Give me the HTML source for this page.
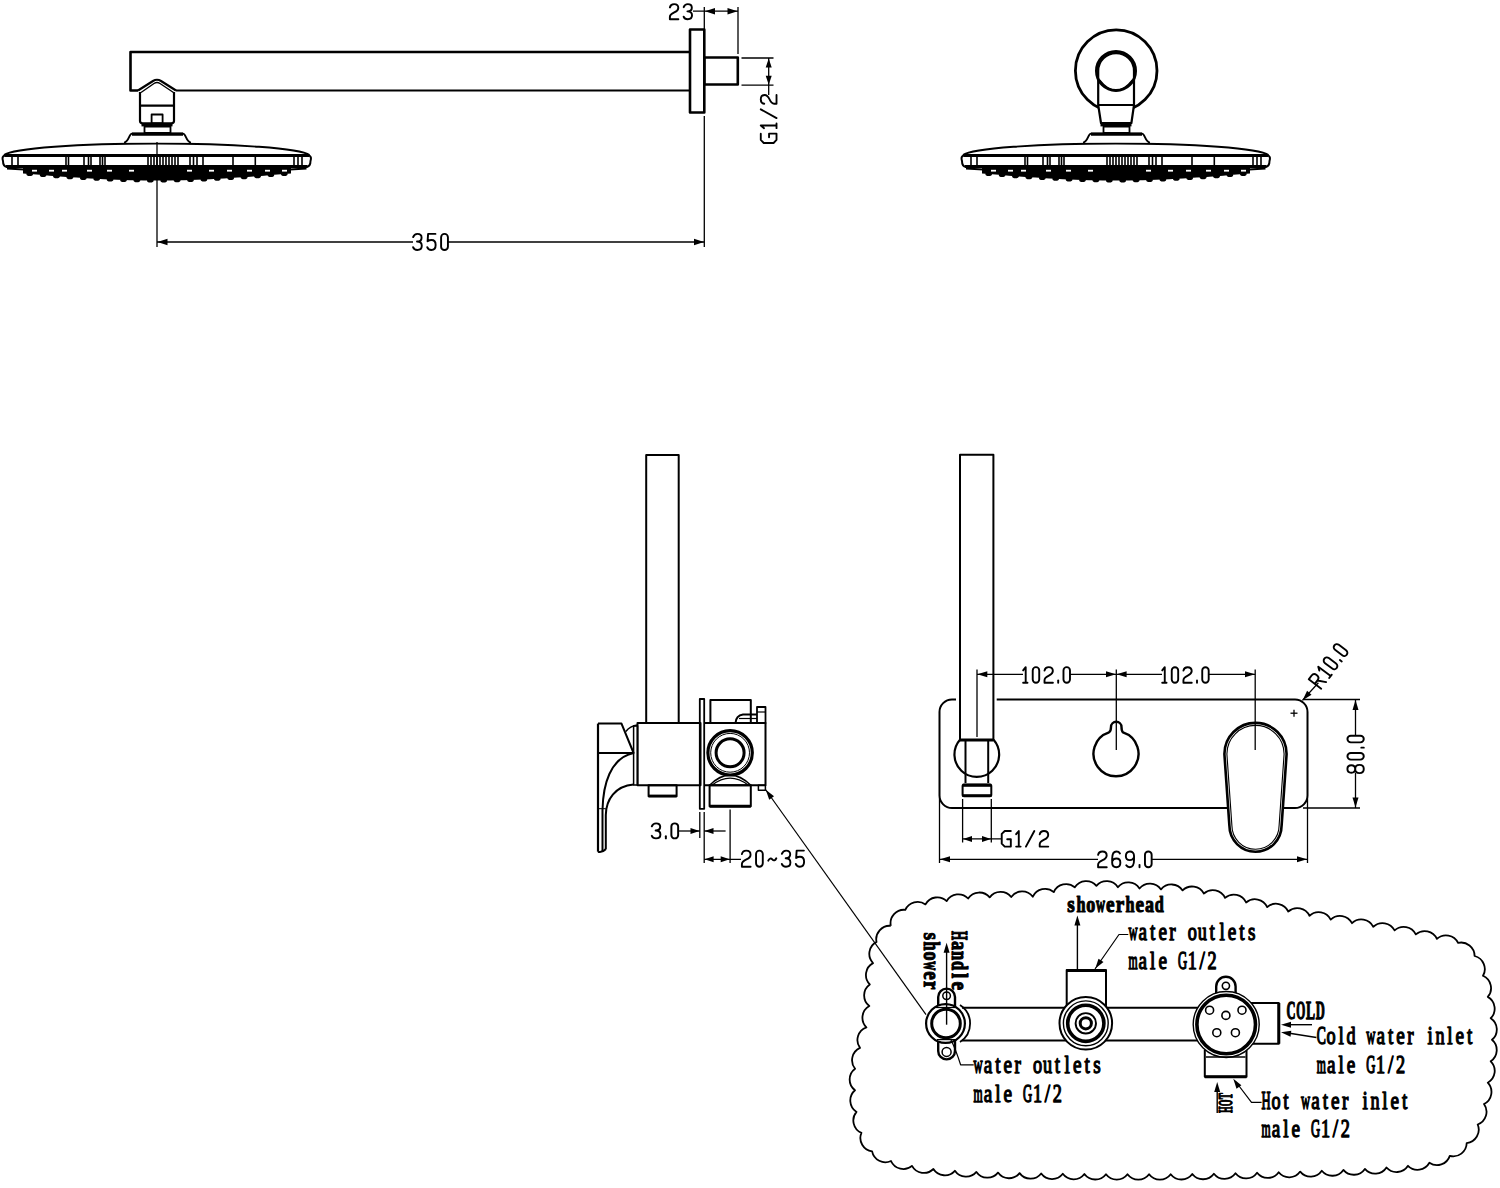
<!DOCTYPE html>
<html><head><meta charset="utf-8"><style>
html,body{margin:0;padding:0;background:#fff;}
svg{display:block;}
</style></head><body>
<svg width="1500" height="1188" viewBox="0 0 1500 1188">
<rect x="0" y="0" width="1500" height="1188" fill="#fff"/>
<g stroke="#000" fill="none" stroke-linecap="butt" stroke-linejoin="round">
<path d="M4.0,155 A153.8,13 0 0 1 309.5,155" stroke-width="1.9" fill="none" />
<path d="M4.5,155.5 L309.0,155.5" stroke-width="3.2" fill="none" />
<path d="M5.0,155.5 Q1.5,156 3.0,161 Q3.0,166.5 7.0,167 L306.5,167 Q310.5,166.5 310.5,161 Q312.0,156 308.5,155.5" stroke-width="2" fill="none" />
<path d="M6.0,166.5 L307.5,166.5" stroke-width="3.2" fill="none" />
<line x1="12.0" y1="157.0" x2="12.0" y2="165.0" stroke-width="1.6"/>
<line x1="18.0" y1="157.0" x2="18.0" y2="165.0" stroke-width="1.6"/>
<line x1="66.0" y1="157.0" x2="66.0" y2="165.0" stroke-width="1.6"/>
<line x1="68.5" y1="157.0" x2="68.5" y2="165.0" stroke-width="1.6"/>
<line x1="84.0" y1="157.0" x2="84.0" y2="165.0" stroke-width="1.6"/>
<line x1="88.5" y1="157.0" x2="88.5" y2="165.0" stroke-width="1.6"/>
<line x1="91.0" y1="157.0" x2="91.0" y2="165.0" stroke-width="1.6"/>
<line x1="100.0" y1="157.0" x2="100.0" y2="165.0" stroke-width="1.6"/>
<line x1="102.5" y1="157.0" x2="102.5" y2="165.0" stroke-width="1.6"/>
<line x1="105.0" y1="157.0" x2="105.0" y2="165.0" stroke-width="1.6"/>
<line x1="148.0" y1="157.0" x2="148.0" y2="165.0" stroke-width="1.6"/>
<line x1="151.0" y1="157.0" x2="151.0" y2="165.0" stroke-width="1.6"/>
<line x1="154.0" y1="157.0" x2="154.0" y2="165.0" stroke-width="1.6"/>
<line x1="157.0" y1="157.0" x2="157.0" y2="165.0" stroke-width="1.6"/>
<line x1="160.0" y1="157.0" x2="160.0" y2="165.0" stroke-width="1.6"/>
<line x1="163.0" y1="157.0" x2="163.0" y2="165.0" stroke-width="1.6"/>
<line x1="166.0" y1="157.0" x2="166.0" y2="165.0" stroke-width="1.6"/>
<line x1="169.0" y1="157.0" x2="169.0" y2="165.0" stroke-width="1.6"/>
<line x1="172.0" y1="157.0" x2="172.0" y2="165.0" stroke-width="1.6"/>
<line x1="175.0" y1="157.0" x2="175.0" y2="165.0" stroke-width="1.6"/>
<line x1="178.0" y1="157.0" x2="178.0" y2="165.0" stroke-width="1.6"/>
<line x1="190.0" y1="157.0" x2="190.0" y2="165.0" stroke-width="1.6"/>
<line x1="193.5" y1="157.0" x2="193.5" y2="165.0" stroke-width="1.6"/>
<line x1="197.0" y1="157.0" x2="197.0" y2="165.0" stroke-width="1.6"/>
<line x1="203.0" y1="157.0" x2="203.0" y2="165.0" stroke-width="1.6"/>
<line x1="233.0" y1="157.0" x2="233.0" y2="165.0" stroke-width="1.6"/>
<line x1="255.3" y1="157.0" x2="255.3" y2="165.0" stroke-width="1.6"/>
<line x1="294.0" y1="157.0" x2="294.0" y2="165.0" stroke-width="1.6"/>
<line x1="298.0" y1="157.0" x2="298.0" y2="165.0" stroke-width="1.6"/>
<line x1="302.0" y1="157.0" x2="302.0" y2="165.0" stroke-width="1.6"/>
<path d="M7.0,168.5 L24.0,169.5 M306.5,168.5 L290.0,169.5" stroke-width="2.2" fill="none" />
<path d="M23.0,167 L23.0,173.5 L29.7,174.0 L36.4,174.6 L43.1,175.1 L49.8,175.7 L56.5,176.2 L63.2,176.7 L69.9,177.2 L76.6,177.6 L83.3,178.0 L90.0,178.4 L96.7,178.8 L103.4,179.2 L110.1,179.5 L116.8,179.7 L123.5,180.0 L130.2,180.2 L136.9,180.3 L143.6,180.4 L150.3,180.5 L157.0,180.5 L163.7,180.5 L170.4,180.4 L177.1,180.3 L183.8,180.2 L190.5,180.0 L197.2,179.7 L203.9,179.5 L210.6,179.2 L217.3,178.8 L224.0,178.4 L230.7,178.0 L237.4,177.6 L244.1,177.2 L250.8,176.7 L257.5,176.2 L264.2,175.7 L270.9,175.1 L277.6,174.6 L284.3,174.0 L291.0,173.5 L291.0,167 Z" stroke-width="0" fill="#000" stroke="none"/>
<ellipse cx="29.7" cy="174.0" rx="3.3" ry="2" fill="#000" stroke="none"/>
<ellipse cx="43.1" cy="175.1" rx="3.3" ry="2" fill="#000" stroke="none"/>
<ellipse cx="56.5" cy="176.2" rx="3.3" ry="2" fill="#000" stroke="none"/>
<ellipse cx="69.9" cy="177.2" rx="3.3" ry="2" fill="#000" stroke="none"/>
<ellipse cx="83.3" cy="178.0" rx="3.3" ry="2" fill="#000" stroke="none"/>
<ellipse cx="96.7" cy="178.8" rx="3.3" ry="2" fill="#000" stroke="none"/>
<ellipse cx="110.1" cy="179.5" rx="3.3" ry="2" fill="#000" stroke="none"/>
<ellipse cx="123.5" cy="180.0" rx="3.3" ry="2" fill="#000" stroke="none"/>
<ellipse cx="136.9" cy="180.3" rx="3.3" ry="2" fill="#000" stroke="none"/>
<ellipse cx="150.3" cy="180.5" rx="3.3" ry="2" fill="#000" stroke="none"/>
<ellipse cx="163.7" cy="180.5" rx="3.3" ry="2" fill="#000" stroke="none"/>
<ellipse cx="177.1" cy="180.3" rx="3.3" ry="2" fill="#000" stroke="none"/>
<ellipse cx="190.5" cy="180.0" rx="3.3" ry="2" fill="#000" stroke="none"/>
<ellipse cx="203.9" cy="179.5" rx="3.3" ry="2" fill="#000" stroke="none"/>
<ellipse cx="217.3" cy="178.8" rx="3.3" ry="2" fill="#000" stroke="none"/>
<ellipse cx="230.7" cy="178.0" rx="3.3" ry="2" fill="#000" stroke="none"/>
<ellipse cx="244.1" cy="177.2" rx="3.3" ry="2" fill="#000" stroke="none"/>
<ellipse cx="257.5" cy="176.2" rx="3.3" ry="2" fill="#000" stroke="none"/>
<ellipse cx="270.9" cy="175.1" rx="3.3" ry="2" fill="#000" stroke="none"/>
<ellipse cx="284.3" cy="174.0" rx="3.3" ry="2" fill="#000" stroke="none"/>
<rect x="32.0" y="169.8" width="5" height="1.8" fill="#fff" stroke="none"/>
<rect x="49.0" y="169.8" width="5" height="1.8" fill="#fff" stroke="none"/>
<rect x="62.0" y="169.8" width="5" height="1.8" fill="#fff" stroke="none"/>
<rect x="87.0" y="169.8" width="5" height="1.8" fill="#fff" stroke="none"/>
<rect x="107.0" y="169.8" width="5" height="1.8" fill="#fff" stroke="none"/>
<rect x="129.0" y="169.8" width="5" height="1.8" fill="#fff" stroke="none"/>
<rect x="187.0" y="169.8" width="5" height="1.8" fill="#fff" stroke="none"/>
<rect x="209.0" y="169.8" width="5" height="1.8" fill="#fff" stroke="none"/>
<rect x="227.0" y="169.8" width="5" height="1.8" fill="#fff" stroke="none"/>
<rect x="247.0" y="169.8" width="5" height="1.8" fill="#fff" stroke="none"/>
<rect x="265.0" y="169.8" width="5" height="1.8" fill="#fff" stroke="none"/>
<rect x="282.0" y="169.8" width="5" height="1.8" fill="#fff" stroke="none"/>
<path d="M124.0,142.6 C129.0,142 129.0,133.5 132.0,133.6 L183.0,133.6 C186.0,133.5 186.0,142 191.0,142.6" stroke-width="1.9" fill="#fff" />
<path d="M132.0,134.2 L183.0,134.2" stroke-width="3.2" fill="none" />
<rect x="144.5" y="126.5" width="26.0" height="6.5" rx="0" stroke-width="1.8" fill="none"/>
<path d="M141.5,124.7 L172.5,124.7" stroke-width="3.4" fill="none" />
<path d="M963.0,155 A153.8,13 0 0 1 1268.5,155" stroke-width="1.9" fill="none" />
<path d="M963.5,155.5 L1268.0,155.5" stroke-width="3.2" fill="none" />
<path d="M964.0,155.5 Q960.5,156 962.0,161 Q962.0,166.5 966.0,167 L1265.5,167 Q1269.5,166.5 1269.5,161 Q1271.0,156 1267.5,155.5" stroke-width="2" fill="none" />
<path d="M965.0,166.5 L1266.5,166.5" stroke-width="3.2" fill="none" />
<line x1="971.0" y1="157.0" x2="971.0" y2="165.0" stroke-width="1.6"/>
<line x1="977.0" y1="157.0" x2="977.0" y2="165.0" stroke-width="1.6"/>
<line x1="1025.0" y1="157.0" x2="1025.0" y2="165.0" stroke-width="1.6"/>
<line x1="1027.5" y1="157.0" x2="1027.5" y2="165.0" stroke-width="1.6"/>
<line x1="1043.0" y1="157.0" x2="1043.0" y2="165.0" stroke-width="1.6"/>
<line x1="1047.5" y1="157.0" x2="1047.5" y2="165.0" stroke-width="1.6"/>
<line x1="1050.0" y1="157.0" x2="1050.0" y2="165.0" stroke-width="1.6"/>
<line x1="1059.0" y1="157.0" x2="1059.0" y2="165.0" stroke-width="1.6"/>
<line x1="1061.5" y1="157.0" x2="1061.5" y2="165.0" stroke-width="1.6"/>
<line x1="1064.0" y1="157.0" x2="1064.0" y2="165.0" stroke-width="1.6"/>
<line x1="1107.0" y1="157.0" x2="1107.0" y2="165.0" stroke-width="1.6"/>
<line x1="1110.0" y1="157.0" x2="1110.0" y2="165.0" stroke-width="1.6"/>
<line x1="1113.0" y1="157.0" x2="1113.0" y2="165.0" stroke-width="1.6"/>
<line x1="1116.0" y1="157.0" x2="1116.0" y2="165.0" stroke-width="1.6"/>
<line x1="1119.0" y1="157.0" x2="1119.0" y2="165.0" stroke-width="1.6"/>
<line x1="1122.0" y1="157.0" x2="1122.0" y2="165.0" stroke-width="1.6"/>
<line x1="1125.0" y1="157.0" x2="1125.0" y2="165.0" stroke-width="1.6"/>
<line x1="1128.0" y1="157.0" x2="1128.0" y2="165.0" stroke-width="1.6"/>
<line x1="1131.0" y1="157.0" x2="1131.0" y2="165.0" stroke-width="1.6"/>
<line x1="1134.0" y1="157.0" x2="1134.0" y2="165.0" stroke-width="1.6"/>
<line x1="1137.0" y1="157.0" x2="1137.0" y2="165.0" stroke-width="1.6"/>
<line x1="1149.0" y1="157.0" x2="1149.0" y2="165.0" stroke-width="1.6"/>
<line x1="1152.5" y1="157.0" x2="1152.5" y2="165.0" stroke-width="1.6"/>
<line x1="1156.0" y1="157.0" x2="1156.0" y2="165.0" stroke-width="1.6"/>
<line x1="1162.0" y1="157.0" x2="1162.0" y2="165.0" stroke-width="1.6"/>
<line x1="1192.0" y1="157.0" x2="1192.0" y2="165.0" stroke-width="1.6"/>
<line x1="1214.3" y1="157.0" x2="1214.3" y2="165.0" stroke-width="1.6"/>
<line x1="1253.0" y1="157.0" x2="1253.0" y2="165.0" stroke-width="1.6"/>
<line x1="1257.0" y1="157.0" x2="1257.0" y2="165.0" stroke-width="1.6"/>
<line x1="1261.0" y1="157.0" x2="1261.0" y2="165.0" stroke-width="1.6"/>
<path d="M966.0,168.5 L983.0,169.5 M1265.5,168.5 L1249.0,169.5" stroke-width="2.2" fill="none" />
<path d="M982.0,167 L982.0,173.5 L988.7,174.0 L995.4,174.6 L1002.1,175.1 L1008.8,175.7 L1015.5,176.2 L1022.2,176.7 L1028.9,177.2 L1035.6,177.6 L1042.3,178.0 L1049.0,178.4 L1055.7,178.8 L1062.4,179.2 L1069.1,179.5 L1075.8,179.7 L1082.5,180.0 L1089.2,180.2 L1095.9,180.3 L1102.6,180.4 L1109.3,180.5 L1116.0,180.5 L1122.7,180.5 L1129.4,180.4 L1136.1,180.3 L1142.8,180.2 L1149.5,180.0 L1156.2,179.7 L1162.9,179.5 L1169.6,179.2 L1176.3,178.8 L1183.0,178.4 L1189.7,178.0 L1196.4,177.6 L1203.1,177.2 L1209.8,176.7 L1216.5,176.2 L1223.2,175.7 L1229.9,175.1 L1236.6,174.6 L1243.3,174.0 L1250.0,173.5 L1250.0,167 Z" stroke-width="0" fill="#000" stroke="none"/>
<ellipse cx="988.7" cy="174.0" rx="3.3" ry="2" fill="#000" stroke="none"/>
<ellipse cx="1002.1" cy="175.1" rx="3.3" ry="2" fill="#000" stroke="none"/>
<ellipse cx="1015.5" cy="176.2" rx="3.3" ry="2" fill="#000" stroke="none"/>
<ellipse cx="1028.9" cy="177.2" rx="3.3" ry="2" fill="#000" stroke="none"/>
<ellipse cx="1042.3" cy="178.0" rx="3.3" ry="2" fill="#000" stroke="none"/>
<ellipse cx="1055.7" cy="178.8" rx="3.3" ry="2" fill="#000" stroke="none"/>
<ellipse cx="1069.1" cy="179.5" rx="3.3" ry="2" fill="#000" stroke="none"/>
<ellipse cx="1082.5" cy="180.0" rx="3.3" ry="2" fill="#000" stroke="none"/>
<ellipse cx="1095.9" cy="180.3" rx="3.3" ry="2" fill="#000" stroke="none"/>
<ellipse cx="1109.3" cy="180.5" rx="3.3" ry="2" fill="#000" stroke="none"/>
<ellipse cx="1122.7" cy="180.5" rx="3.3" ry="2" fill="#000" stroke="none"/>
<ellipse cx="1136.1" cy="180.3" rx="3.3" ry="2" fill="#000" stroke="none"/>
<ellipse cx="1149.5" cy="180.0" rx="3.3" ry="2" fill="#000" stroke="none"/>
<ellipse cx="1162.9" cy="179.5" rx="3.3" ry="2" fill="#000" stroke="none"/>
<ellipse cx="1176.3" cy="178.8" rx="3.3" ry="2" fill="#000" stroke="none"/>
<ellipse cx="1189.7" cy="178.0" rx="3.3" ry="2" fill="#000" stroke="none"/>
<ellipse cx="1203.1" cy="177.2" rx="3.3" ry="2" fill="#000" stroke="none"/>
<ellipse cx="1216.5" cy="176.2" rx="3.3" ry="2" fill="#000" stroke="none"/>
<ellipse cx="1229.9" cy="175.1" rx="3.3" ry="2" fill="#000" stroke="none"/>
<ellipse cx="1243.3" cy="174.0" rx="3.3" ry="2" fill="#000" stroke="none"/>
<rect x="991.0" y="169.8" width="5" height="1.8" fill="#fff" stroke="none"/>
<rect x="1008.0" y="169.8" width="5" height="1.8" fill="#fff" stroke="none"/>
<rect x="1021.0" y="169.8" width="5" height="1.8" fill="#fff" stroke="none"/>
<rect x="1046.0" y="169.8" width="5" height="1.8" fill="#fff" stroke="none"/>
<rect x="1066.0" y="169.8" width="5" height="1.8" fill="#fff" stroke="none"/>
<rect x="1088.0" y="169.8" width="5" height="1.8" fill="#fff" stroke="none"/>
<rect x="1146.0" y="169.8" width="5" height="1.8" fill="#fff" stroke="none"/>
<rect x="1168.0" y="169.8" width="5" height="1.8" fill="#fff" stroke="none"/>
<rect x="1186.0" y="169.8" width="5" height="1.8" fill="#fff" stroke="none"/>
<rect x="1206.0" y="169.8" width="5" height="1.8" fill="#fff" stroke="none"/>
<rect x="1224.0" y="169.8" width="5" height="1.8" fill="#fff" stroke="none"/>
<rect x="1241.0" y="169.8" width="5" height="1.8" fill="#fff" stroke="none"/>
<path d="M1083.0,142.6 C1088.0,142 1088.0,133.5 1091.0,133.6 L1142.0,133.6 C1145.0,133.5 1145.0,142 1150.0,142.6" stroke-width="1.9" fill="#fff" />
<path d="M1091.0,134.2 L1142.0,134.2" stroke-width="3.2" fill="none" />
<rect x="1103.5" y="126.5" width="26.0" height="6.5" rx="0" stroke-width="1.8" fill="none"/>
<path d="M1100.5,124.7 L1131.5,124.7" stroke-width="3.4" fill="none" />
<path d="M690,52 L130.5,52 L130.5,90.5 L138,90.5" stroke-width="2.6" fill="none" />
<path d="M176,90.5 L690,90.5" stroke-width="2" fill="none" />
<path d="M138,90.5 L153,81 Q157,78.5 161,81 L176,90.5" stroke-width="2.2" fill="none" />
<path d="M141,92.5 L154,83.5 Q157,81.5 160,83.5 L173.5,92.5" stroke-width="1.4" fill="none" />
<path d="M140,92 L140,121 Q140,123.3 143,123.3 L171,123.3 Q174,123.3 174,121 L174,92" stroke-width="2.2" fill="none" />
<line x1="140.0" y1="105.7" x2="174.0" y2="105.7" stroke-width="2.2"/>
<rect x="151.6" y="114.5" width="11.0" height="9.0" rx="0" stroke-width="1.8" fill="none"/>
<line x1="157.0" y1="142.0" x2="157.0" y2="247.0" stroke-width="1.3"/>
<line x1="704.3" y1="116.0" x2="704.3" y2="247.0" stroke-width="1.3"/>
<line x1="157.0" y1="242.0" x2="704.3" y2="242.0" stroke-width="1.3"/>
<path d="M157.5,242.0 L167.5,238.8 L167.5,245.2 Z" fill="#000" stroke="none"/>
<path d="M704.0,242.0 L694.0,245.2 L694.0,238.8 Z" fill="#000" stroke="none"/>
<rect x="413.0" y="233.0" width="35.0" height="18.0" fill="#fff" stroke="none"/>
<g transform="translate(412.10,232.90) scale(1.0194,1.0056)" fill="none" stroke="#000" stroke-width="1.877" stroke-linecap="round" stroke-linejoin="round"><path transform="translate(0.00,0)" d="M1,4.2 C1.8,2 3.2,1 5.2,1 C7.7,1 9.3,2.5 9.3,4.7 C9.3,7 7.6,8.6 4.8,8.6 M4.8,8.6 C7.9,8.6 9.5,10.4 9.5,12.8 C9.5,15.4 7.7,17 5.1,17 C3,17 1.6,16.1 0.95,14.2"/><path transform="translate(13.90,0)" d="M9,1 L1.8,1 L1.3,8.3 C2.5,7.5 3.8,7.1 5.1,7.1 C7.8,7.1 9.2,9 9.2,12 C9.2,15 7.6,17 5,17 C3,17 1.6,16.1 0.95,14.2"/><path transform="translate(27.50,0)" d="M0.95,4.35 A3.35,3.35 0 0 1 7.65,4.35 L7.65,13.65 A3.35,3.35 0 0 1 0.95,13.65 Z"/></g>
<rect x="690.0" y="29.5" width="14.3" height="83.0" rx="0" stroke-width="2.6" fill="none"/>
<rect x="704.3" y="57.5" width="33.5" height="27.0" rx="0" stroke-width="2.6" fill="none"/>
<line x1="704.3" y1="7.0" x2="704.3" y2="29.0" stroke-width="1.3"/>
<line x1="738.0" y1="7.0" x2="738.0" y2="54.0" stroke-width="1.3"/>
<line x1="693.0" y1="11.2" x2="738.0" y2="11.2" stroke-width="1.3"/>
<path d="M705.0,11.2 L715.0,8.0 L715.0,14.4 Z" fill="#000" stroke="none"/>
<path d="M737.5,11.2 L727.5,14.4 L727.5,8.0 Z" fill="#000" stroke="none"/>
<g transform="translate(668.90,3.20) scale(0.9796,0.9444)" fill="none" stroke="#000" stroke-width="1.975" stroke-linecap="round" stroke-linejoin="round"><path transform="translate(0.00,0)" d="M1,4.5 C1.5,2 3,1 5.3,1 C7.8,1 9.6,2.6 9.6,5 C9.6,7.3 8,8.6 5.5,9.8 C2.5,11.2 1,12.3 1,14.5 L1,17 L9.65,17"/><path transform="translate(14.10,0)" d="M1,4.2 C1.8,2 3.2,1 5.2,1 C7.7,1 9.3,2.5 9.3,4.7 C9.3,7 7.6,8.6 4.8,8.6 M4.8,8.6 C7.9,8.6 9.5,10.4 9.5,12.8 C9.5,15.4 7.7,17 5.1,17 C3,17 1.6,16.1 0.95,14.2"/></g>
<line x1="741.5" y1="58.0" x2="773.5" y2="58.0" stroke-width="1.3"/>
<line x1="741.5" y1="85.2" x2="773.5" y2="85.2" stroke-width="1.3"/>
<line x1="768.7" y1="58.0" x2="768.7" y2="95.0" stroke-width="1.3"/>
<path d="M768.7,58.5 L771.7,67.5 L765.7,67.5 Z" fill="#000" stroke="none"/>
<path d="M768.7,84.7 L765.7,75.7 L771.7,75.7 Z" fill="#000" stroke="none"/>
<g transform="rotate(-90 777.5 144.0)"><g transform="translate(777.50,126.30) scale(1.0204,0.9833)" fill="none" stroke="#000" stroke-width="1.896" stroke-linecap="round" stroke-linejoin="round"><path transform="translate(0.00,0)" d="M10.15,1 L4,1 L0.95,4 L0.95,14 L4,17 L10.15,17 L10.15,9.4 L6.5,9.4"/><path transform="translate(14.60,0)" d="M0.95,4.3 L3.6,1 L3.6,17 M0.95,17 L5.45,17"/><path transform="translate(24.50,0)" d="M0.95,17 L9.45,1"/><path transform="translate(38.40,0)" d="M1,4.5 C1.5,2 3,1 5.3,1 C7.8,1 9.6,2.6 9.6,5 C9.6,7.3 8,8.6 5.5,9.8 C2.5,11.2 1,12.3 1,14.5 L1,17 L9.65,17"/></g></g>
<circle cx="1116.2" cy="70.7" r="40.8" stroke-width="2.8" fill="none"/>
<path d="M1101,123 L1098.2,105 L1098.2,71 A17.9,17.9 0 0 1 1134,71 L1134,105 L1131.4,123 Z" stroke-width="2.2" fill="#fff" />
<circle cx="1116.0" cy="70.9" r="19.6" stroke-width="2.8" fill="none"/>
<path d="M1099.5,80 Q1116,101 1132.5,80" stroke-width="1.6" fill="none" />
<line x1="1098.2" y1="105.0" x2="1134.0" y2="105.0" stroke-width="2.2"/>
<rect x="646.2" y="455.0" width="32.5" height="268.0" rx="0" stroke-width="2" fill="none"/>
<rect x="637.5" y="723.0" width="63.0" height="62.2" rx="0" stroke-width="2" fill="none"/>
<rect x="699.8" y="699.0" width="4.4" height="109.8" rx="0" stroke-width="1.8" fill="none"/>
<path d="M704.2,723 L765.5,723 L765.5,785.2 L704.2,785.2" stroke-width="2" fill="none" />
<rect x="710.4" y="700.0" width="40.4" height="23.0" rx="0" stroke-width="2" fill="none"/>
<path d="M735.5,723 Q736,715.5 743,714.5 L757,714.5" stroke-width="2" fill="none" />
<line x1="739.0" y1="718.5" x2="757.0" y2="718.5" stroke-width="1.2"/>
<rect x="757.0" y="707.0" width="8.5" height="16.0" rx="0" stroke-width="1.8" fill="none"/>
<line x1="757.0" y1="712.0" x2="765.5" y2="712.0" stroke-width="1.2"/>
<circle cx="730.1" cy="752.8" r="22.2" stroke-width="3.2" fill="none"/>
<circle cx="730.1" cy="752.8" r="19.4" stroke-width="1" fill="none"/>
<circle cx="730.1" cy="752.8" r="14.0" stroke-width="3" fill="none"/>
<path d="M709.6,785.2 Q730,765 750.8,785.2" stroke-width="1.6" fill="none" />
<path d="M712,785.2 Q730,771 748.4,785.2" stroke-width="1.2" fill="none" />
<rect x="709.6" y="785.2" width="41.2" height="21.1" rx="0" stroke-width="2" fill="none"/>
<line x1="709.6" y1="806.3" x2="750.8" y2="806.3" stroke-width="3"/>
<rect x="758.4" y="785.2" width="7.0" height="5.0" rx="0" stroke-width="1.5" fill="none"/>
<rect x="648.6" y="785.2" width="28.0" height="11.0" rx="0" stroke-width="2" fill="none"/>
<line x1="648.6" y1="796.0" x2="676.6" y2="796.0" stroke-width="2.8"/>
<path d="M598,723.6 L621.5,723.6 L633.6,753 L598,753" stroke-width="2" fill="none" />
<path d="M598,723.6 L598,851.7" stroke-width="2.2" fill="none" />
<path d="M633.6,753 C610,758 603,785 602.5,810 L602.5,851" stroke-width="2" fill="none" />
<path d="M633.6,784.6 C615,786 606,800 605.8,815 L605.8,849" stroke-width="2" fill="none" />
<path d="M598,851.7 Q602,853 606,849" stroke-width="2" fill="none" />
<path d="M625.8,731.5 Q630,726 637.5,725" stroke-width="1.5" fill="none" />
<rect x="633.6" y="726.0" width="4.0" height="59.0" rx="0" stroke-width="1.5" fill="none"/>
<line x1="598.0" y1="808.7" x2="605.8" y2="808.7" stroke-width="1"/>
<line x1="699.8" y1="812.0" x2="699.8" y2="838.0" stroke-width="1.3"/>
<line x1="704.2" y1="812.0" x2="704.2" y2="863.0" stroke-width="1.3"/>
<line x1="730.1" y1="809.6" x2="730.1" y2="863.0" stroke-width="1.3"/>
<line x1="679.0" y1="831.0" x2="699.8" y2="831.0" stroke-width="1.3"/>
<line x1="704.2" y1="831.0" x2="725.6" y2="831.0" stroke-width="1.3"/>
<path d="M699.5,831.0 L690.5,834.0 L690.5,828.0 Z" fill="#000" stroke="none"/>
<path d="M704.5,831.0 L713.5,828.0 L713.5,834.0 Z" fill="#000" stroke="none"/>
<g transform="translate(650.80,822.40) scale(1.0107,0.9444)" fill="none" stroke="#000" stroke-width="1.944" stroke-linecap="round" stroke-linejoin="round"><path transform="translate(0.00,0)" d="M1,4.2 C1.8,2 3.2,1 5.2,1 C7.7,1 9.3,2.5 9.3,4.7 C9.3,7 7.6,8.6 4.8,8.6 M4.8,8.6 C7.9,8.6 9.5,10.4 9.5,12.8 C9.5,15.4 7.7,17 5.1,17 C3,17 1.6,16.1 0.95,14.2"/><path transform="translate(13.90,0)" d="M1,14.6 L1,17"/><path transform="translate(19.40,0)" d="M0.95,4.35 A3.35,3.35 0 0 1 7.65,4.35 L7.65,13.65 A3.35,3.35 0 0 1 0.95,13.65 Z"/></g>
<line x1="704.2" y1="859.3" x2="741.0" y2="859.3" stroke-width="1.3"/>
<path d="M704.6,859.3 L713.6,856.3 L713.6,862.3 Z" fill="#000" stroke="none"/>
<path d="M729.7,859.3 L720.7,862.3 L720.7,856.3 Z" fill="#000" stroke="none"/>
<g transform="translate(740.90,849.60) scale(1.0063,1.0056)" fill="none" stroke="#000" stroke-width="1.889" stroke-linecap="round" stroke-linejoin="round"><path transform="translate(0.00,0)" d="M1,4.5 C1.5,2 3,1 5.3,1 C7.8,1 9.6,2.6 9.6,5 C9.6,7.3 8,8.6 5.5,9.8 C2.5,11.2 1,12.3 1,14.5 L1,17 L9.65,17"/><path transform="translate(14.10,0)" d="M0.95,4.35 A3.35,3.35 0 0 1 7.65,4.35 L7.65,13.65 A3.35,3.35 0 0 1 0.95,13.65 Z"/><path transform="translate(26.20,0)" d="M1,11 C2,8.8 3.6,8.2 5,9.8 C6.4,11.4 8,10.8 9,8.6"/><path transform="translate(39.70,0)" d="M1,4.2 C1.8,2 3.2,1 5.2,1 C7.7,1 9.3,2.5 9.3,4.7 C9.3,7 7.6,8.6 4.8,8.6 M4.8,8.6 C7.9,8.6 9.5,10.4 9.5,12.8 C9.5,15.4 7.7,17 5.1,17 C3,17 1.6,16.1 0.95,14.2"/><path transform="translate(53.60,0)" d="M9,1 L1.8,1 L1.3,8.3 C2.5,7.5 3.8,7.1 5.1,7.1 C7.8,7.1 9.2,9 9.2,12 C9.2,15 7.6,17 5,17 C3,17 1.6,16.1 0.95,14.2"/></g>
<line x1="765.5" y1="789.5" x2="926.0" y2="1014.6" stroke-width="1.2"/>
<path d="M765.8,789.8 L774.0,796.2 L769.2,799.7 Z" fill="#000" stroke="none"/>
<path d="M956,699.5 L952,699.5 A12.5,12.5 0 0 0 939.5,712 L939.5,795.5 A12.5,12.5 0 0 0 952,808 L1295,808 A12.5,12.5 0 0 0 1307.5,795.5 L1307.5,712 A12.5,12.5 0 0 0 1295,699.5 L996.7,699.5" stroke-width="2" fill="none" />
<path d="M960,454.8 L993.4,454.8 L993.4,740 L960,740 Z" stroke-width="2" fill="none" />
<path d="M960,739.8 A22.35,22.35 0 1 0 993.6,739.8" stroke-width="2.2" fill="none" />
<line x1="965.5" y1="740.0" x2="965.5" y2="783.0" stroke-width="2"/>
<line x1="988.2" y1="740.0" x2="988.2" y2="783.0" stroke-width="2"/>
<rect x="962.6" y="784.6" width="28.7" height="11.7" rx="1.5" stroke-width="2" fill="none"/>
<line x1="962.6" y1="785.3" x2="991.3" y2="785.3" stroke-width="3"/>
<line x1="962.6" y1="795.6" x2="991.3" y2="795.6" stroke-width="2.8"/>
<line x1="960.0" y1="740.0" x2="993.4" y2="740.0" stroke-width="2.8"/>
<path d="M1109,732.3 Q1111,731 1111,727 A5.25,5.25 0 1 1 1121.5,727 Q1121.5,731 1123,732.3 A22.5,22.5 0 1 1 1109,732.3 Z" stroke-width="2.4" fill="none" />
<path d="M1224.4,754 A31.1,31.1 0 0 1 1286.6,754 L1281.6,825.6 A26.1,26.1 0 0 1 1229.4,825.6 Z" stroke-width="2.6" fill="#fff" />
<path d="M1226.9,754 A28.6,28.6 0 0 1 1284.1,754 L1279.1,825.6 A23.6,23.6 0 0 1 1231.9,825.6 Z" stroke-width="1.1" fill="none" />
<line x1="1290.5" y1="713.2" x2="1297.5" y2="713.2" stroke-width="1.3"/>
<line x1="1294.0" y1="709.7" x2="1294.0" y2="716.7" stroke-width="1.3"/>
<line x1="977.0" y1="669.5" x2="977.0" y2="737.0" stroke-width="1.3"/>
<line x1="1116.3" y1="669.5" x2="1116.3" y2="750.0" stroke-width="1.3"/>
<line x1="1255.2" y1="669.5" x2="1255.2" y2="750.0" stroke-width="1.3"/>
<line x1="977.0" y1="674.3" x2="1255.2" y2="674.3" stroke-width="1.3"/>
<path d="M977.3,674.3 L987.3,671.3 L987.3,677.3 Z" fill="#000" stroke="none"/>
<path d="M1116.0,674.3 L1106.0,677.3 L1106.0,671.3 Z" fill="#000" stroke="none"/>
<path d="M1116.6,674.3 L1126.6,671.3 L1126.6,677.3 Z" fill="#000" stroke="none"/>
<path d="M1255.0,674.3 L1245.0,677.3 L1245.0,671.3 Z" fill="#000" stroke="none"/>
<rect x="1023.0" y="666.0" width="47.0" height="18.0" fill="#fff" stroke="none"/>
<rect x="1162.0" y="666.0" width="47.0" height="18.0" fill="#fff" stroke="none"/>
<g transform="translate(1022.20,666.20) scale(0.9701,0.9722)" fill="none" stroke="#000" stroke-width="1.956" stroke-linecap="round" stroke-linejoin="round"><path transform="translate(0.00,0)" d="M0.95,4.3 L3.6,1 L3.6,17 M0.95,17 L5.45,17"/><path transform="translate(9.90,0)" d="M0.95,4.35 A3.35,3.35 0 0 1 7.65,4.35 L7.65,13.65 A3.35,3.35 0 0 1 0.95,13.65 Z"/><path transform="translate(22.00,0)" d="M1,4.5 C1.5,2 3,1 5.3,1 C7.8,1 9.6,2.6 9.6,5 C9.6,7.3 8,8.6 5.5,9.8 C2.5,11.2 1,12.3 1,14.5 L1,17 L9.65,17"/><path transform="translate(36.10,0)" d="M1,14.6 L1,17"/><path transform="translate(41.60,0)" d="M0.95,4.35 A3.35,3.35 0 0 1 7.65,4.35 L7.65,13.65 A3.35,3.35 0 0 1 0.95,13.65 Z"/></g>
<g transform="translate(1161.30,666.20) scale(0.9622,0.9722)" fill="none" stroke="#000" stroke-width="1.964" stroke-linecap="round" stroke-linejoin="round"><path transform="translate(0.00,0)" d="M0.95,4.3 L3.6,1 L3.6,17 M0.95,17 L5.45,17"/><path transform="translate(9.90,0)" d="M0.95,4.35 A3.35,3.35 0 0 1 7.65,4.35 L7.65,13.65 A3.35,3.35 0 0 1 0.95,13.65 Z"/><path transform="translate(22.00,0)" d="M1,4.5 C1.5,2 3,1 5.3,1 C7.8,1 9.6,2.6 9.6,5 C9.6,7.3 8,8.6 5.5,9.8 C2.5,11.2 1,12.3 1,14.5 L1,17 L9.65,17"/><path transform="translate(36.10,0)" d="M1,14.6 L1,17"/><path transform="translate(41.60,0)" d="M0.95,4.35 A3.35,3.35 0 0 1 7.65,4.35 L7.65,13.65 A3.35,3.35 0 0 1 0.95,13.65 Z"/></g>
<line x1="1303.0" y1="699.5" x2="1360.0" y2="699.5" stroke-width="1.3"/>
<line x1="1303.0" y1="808.0" x2="1360.0" y2="808.0" stroke-width="1.3"/>
<line x1="1355.5" y1="699.5" x2="1355.5" y2="808.0" stroke-width="1.3"/>
<path d="M1355.5,700.0 L1358.5,710.0 L1352.5,710.0 Z" fill="#000" stroke="none"/>
<path d="M1355.5,807.5 L1352.5,797.5 L1358.5,797.5 Z" fill="#000" stroke="none"/>
<rect x="1346.0" y="736.0" width="18.0" height="37.0" fill="#fff" stroke="none"/>
<g transform="rotate(-90 1364.8 774.0)"><g transform="translate(1364.80,755.60) scale(0.9825,1.0222)" fill="none" stroke="#000" stroke-width="1.896" stroke-linecap="round" stroke-linejoin="round"><path transform="translate(0.00,0)" d="M5.1,8.6 C2.7,8.6 1.3,7.2 1.3,4.8 C1.3,2.5 2.9,1 5.1,1 C7.3,1 8.9,2.5 8.9,4.8 C8.9,7.2 7.5,8.6 5.1,8.6 C2.4,8.6 0.95,10.2 0.95,12.8 C0.95,15.4 2.6,17 5.1,17 C7.6,17 9.25,15.4 9.25,12.8 C9.25,10.2 7.8,8.6 5.1,8.6 Z"/><path transform="translate(13.70,0)" d="M0.95,4.35 A3.35,3.35 0 0 1 7.65,4.35 L7.65,13.65 A3.35,3.35 0 0 1 0.95,13.65 Z"/><path transform="translate(25.80,0)" d="M1,14.6 L1,17"/><path transform="translate(31.30,0)" d="M0.95,4.35 A3.35,3.35 0 0 1 7.65,4.35 L7.65,13.65 A3.35,3.35 0 0 1 0.95,13.65 Z"/></g></g>
<line x1="1302.4" y1="700.4" x2="1318.4" y2="682.8" stroke-width="1.3"/>
<path d="M1302.6,700.2 L1307.1,690.8 L1311.5,694.8 Z" fill="#000" stroke="none"/>
<g transform="rotate(-53 1321.4 690.0)"><g transform="translate(1321.40,672.50) scale(0.9462,0.9722)" fill="none" stroke="#000" stroke-width="1.981" stroke-linecap="round" stroke-linejoin="round"><path transform="translate(0.00,0)" d="M1,17 L1,1 L6,1 C8.3,1 9.65,2.5 9.65,4.8 C9.65,7.2 8.3,8.8 6,8.8 L1,8.8 M5.5,8.8 L9.65,17"/><path transform="translate(14.10,0)" d="M0.95,4.3 L3.6,1 L3.6,17 M0.95,17 L5.45,17"/><path transform="translate(24.00,0)" d="M0.95,4.35 A3.35,3.35 0 0 1 7.65,4.35 L7.65,13.65 A3.35,3.35 0 0 1 0.95,13.65 Z"/><path transform="translate(36.10,0)" d="M1,14.6 L1,17"/><path transform="translate(41.60,0)" d="M0.95,4.35 A3.35,3.35 0 0 1 7.65,4.35 L7.65,13.65 A3.35,3.35 0 0 1 0.95,13.65 Z"/></g></g>
<line x1="962.6" y1="799.0" x2="962.6" y2="842.5" stroke-width="1.3"/>
<line x1="991.3" y1="799.0" x2="991.3" y2="842.5" stroke-width="1.3"/>
<line x1="962.6" y1="838.9" x2="1001.0" y2="838.9" stroke-width="1.3"/>
<path d="M963.0,838.9 L972.0,835.9 L972.0,841.9 Z" fill="#000" stroke="none"/>
<path d="M991.0,838.9 L982.0,841.9 L982.0,835.9 Z" fill="#000" stroke="none"/>
<g transform="translate(1000.80,830.00) scale(0.9878,0.9778)" fill="none" stroke="#000" stroke-width="1.933" stroke-linecap="round" stroke-linejoin="round"><path transform="translate(0.00,0)" d="M10.15,1 L4,1 L0.95,4 L0.95,14 L4,17 L10.15,17 L10.15,9.4 L6.5,9.4"/><path transform="translate(14.60,0)" d="M0.95,4.3 L3.6,1 L3.6,17 M0.95,17 L5.45,17"/><path transform="translate(24.50,0)" d="M0.95,17 L9.45,1"/><path transform="translate(38.40,0)" d="M1,4.5 C1.5,2 3,1 5.3,1 C7.8,1 9.6,2.6 9.6,5 C9.6,7.3 8,8.6 5.5,9.8 C2.5,11.2 1,12.3 1,14.5 L1,17 L9.65,17"/></g>
<line x1="939.5" y1="798.5" x2="939.5" y2="863.0" stroke-width="1.3"/>
<line x1="1307.5" y1="798.5" x2="1307.5" y2="863.0" stroke-width="1.3"/>
<line x1="939.5" y1="859.3" x2="1307.5" y2="859.3" stroke-width="1.3"/>
<path d="M940.0,859.3 L950.0,856.3 L950.0,862.3 Z" fill="#000" stroke="none"/>
<path d="M1307.0,859.3 L1297.0,862.3 L1297.0,856.3 Z" fill="#000" stroke="none"/>
<rect x="1098.0" y="850.0" width="54.0" height="18.0" fill="#fff" stroke="none"/>
<g transform="translate(1097.10,850.50) scale(0.9982,0.9833)" fill="none" stroke="#000" stroke-width="1.918" stroke-linecap="round" stroke-linejoin="round"><path transform="translate(0.00,0)" d="M1,4.5 C1.5,2 3,1 5.3,1 C7.8,1 9.6,2.6 9.6,5 C9.6,7.3 8,8.6 5.5,9.8 C2.5,11.2 1,12.3 1,14.5 L1,17 L9.65,17"/><path transform="translate(14.10,0)" d="M8.8,3 C8.1,1.7 6.8,1 5.2,1 C2.4,1 1,3.5 1,8.5 L1,12.5 C1,15.3 2.7,17 5.1,17 C7.6,17 9.2,15.2 9.2,12.4 C9.2,9.8 7.6,8.2 5.2,8.2 C3.2,8.2 1.7,9.4 1,11"/><path transform="translate(27.80,0)" d="M1.4,15 C2.1,16.3 3.4,17 5,17 C7.8,17 9.2,14.5 9.2,9.5 L9.2,5.5 C9.2,2.7 7.5,1 5.1,1 C2.6,1 1,2.8 1,5.6 C1,8.2 2.6,9.8 5,9.8 C7,9.8 8.5,8.6 9.2,7"/><path transform="translate(41.50,0)" d="M1,14.6 L1,17"/><path transform="translate(47.00,0)" d="M0.95,4.35 A3.35,3.35 0 0 1 7.65,4.35 L7.65,13.65 A3.35,3.35 0 0 1 0.95,13.65 Z"/></g>
<path d="M890.8,925.8 A13.5,13.5 0 0 1 905.3,909.8 A13.5,13.5 0 0 1 925.5,904.4 A13.5,13.5 0 0 1 946.7,901.1 A13.5,13.5 0 0 1 968.1,898.5 A13.5,13.5 0 0 1 989.7,897.4 A13.5,13.5 0 0 1 1011.2,897.0 A13.5,13.5 0 0 1 1032.8,896.7 A13.5,13.5 0 0 1 1053.8,892.1 A13.5,13.5 0 0 1 1074.8,887.3 A13.5,13.5 0 0 1 1096.4,885.8 A13.5,13.5 0 0 1 1117.9,887.2 A13.5,13.5 0 0 1 1139.5,888.5 A13.5,13.5 0 0 1 1161.0,889.4 A13.5,13.5 0 0 1 1182.6,890.4 A13.5,13.5 0 0 1 1203.9,893.5 A13.5,13.5 0 0 1 1225.0,897.9 A13.5,13.5 0 0 1 1246.1,902.5 A13.5,13.5 0 0 1 1267.2,907.1 A13.5,13.5 0 0 1 1288.3,911.5 A13.5,13.5 0 0 1 1309.5,915.8 A13.5,13.5 0 0 1 1330.7,919.6 A13.5,13.5 0 0 1 1352.0,923.2 A13.5,13.5 0 0 1 1373.3,926.8 A13.5,13.5 0 0 1 1394.6,930.4 A13.5,13.5 0 0 1 1415.8,934.4 A13.5,13.5 0 0 1 1436.9,938.9 A13.5,13.5 0 0 1 1458.1,942.9 A13.5,13.5 0 0 1 1474.6,956.0 A13.5,13.5 0 0 1 1483.0,975.8 A13.5,13.5 0 0 1 1487.8,996.9 A13.5,13.5 0 0 1 1490.7,1018.2 A13.5,13.5 0 0 1 1492.0,1039.8 A13.5,13.5 0 0 1 1490.7,1061.3 A13.5,13.5 0 0 1 1487.8,1082.7 A13.5,13.5 0 0 1 1484.0,1104.0 A13.5,13.5 0 0 1 1477.7,1124.5 A13.5,13.5 0 0 1 1466.7,1143.1 A13.5,13.5 0 0 1 1449.8,1155.9 A13.5,13.5 0 0 1 1429.4,1162.8 A13.5,13.5 0 0 1 1408.0,1165.8 A13.5,13.5 0 0 1 1386.5,1167.5 A13.5,13.5 0 0 1 1364.9,1168.9 A13.5,13.5 0 0 1 1343.4,1169.9 A13.5,13.5 0 0 1 1321.8,1170.8 A13.5,13.5 0 0 1 1300.2,1171.6 A13.5,13.5 0 0 1 1278.7,1172.3 A13.5,13.5 0 0 1 1257.1,1172.8 A13.5,13.5 0 0 1 1235.5,1173.3 A13.5,13.5 0 0 1 1213.9,1173.7 A13.5,13.5 0 0 1 1192.3,1174.0 A13.5,13.5 0 0 1 1170.7,1174.2 A13.5,13.5 0 0 1 1149.1,1174.2 A13.5,13.5 0 0 1 1127.5,1174.2 A13.5,13.5 0 0 1 1106.0,1174.2 A13.5,13.5 0 0 1 1084.4,1174.0 A13.5,13.5 0 0 1 1062.8,1173.8 A13.5,13.5 0 0 1 1041.2,1173.5 A13.5,13.5 0 0 1 1019.6,1173.1 A13.5,13.5 0 0 1 998.0,1172.6 A13.5,13.5 0 0 1 976.4,1171.9 A13.5,13.5 0 0 1 954.9,1170.8 A13.5,13.5 0 0 1 933.4,1169.0 A13.5,13.5 0 0 1 912.0,1165.9 A13.5,13.5 0 0 1 891.0,1161.0 A13.5,13.5 0 0 1 872.1,1151.4 A13.5,13.5 0 0 1 861.4,1132.9 A13.5,13.5 0 0 1 856.5,1111.9 A13.5,13.5 0 0 1 855.0,1090.3 A13.5,13.5 0 0 1 855.1,1068.7 A13.5,13.5 0 0 1 860.0,1047.9 A13.5,13.5 0 0 1 866.4,1027.3 A13.5,13.5 0 0 1 869.3,1006.0 A13.5,13.5 0 0 1 869.8,984.4 A13.5,13.5 0 0 1 873.0,963.1 A13.5,13.5 0 0 1 876.5,941.9 A13.5,13.5 0 0 1 890.8,925.8 " stroke-width="1.8" fill="none" />
<line x1="962.0" y1="1007.7" x2="1200.0" y2="1007.7" stroke-width="2"/>
<line x1="962.0" y1="1040.6" x2="1200.0" y2="1040.6" stroke-width="2"/>
<path d="M938.2,1008 L938.2,997 A8.4,8.4 0 0 1 955,997 L955,1008" stroke-width="2.4" fill="#fff" />
<circle cx="946.6" cy="995.7" r="3.8" stroke-width="1.5" fill="none"/>
<path d="M938.2,1039 L938.2,1051 A8.4,8.4 0 0 0 955,1051 L955,1039" stroke-width="2.4" fill="#fff" />
<circle cx="946.6" cy="1051.9" r="4.5" stroke-width="1.5" fill="none"/>
<path d="M960,1005 A22,22 0 0 1 960,1042" stroke-width="1.8" fill="none" />
<circle cx="945.5" cy="1023.5" r="19.4" stroke-width="2.2" fill="#fff"/>
<circle cx="946.0" cy="1023.5" r="14.3" stroke-width="3" fill="none"/>
<line x1="936.0" y1="1007.5" x2="956.0" y2="1007.5" stroke-width="1.2"/>
<line x1="937.0" y1="1039.6" x2="956.0" y2="1039.6" stroke-width="1.2"/>
<line x1="946.6" y1="1024.7" x2="946.6" y2="948.0" stroke-width="1.4"/>
<path d="M946.6,942.7 L949.6,952.7 L943.6,952.7 Z" fill="#000" stroke="none"/>
<path d="M951,1040 Q956,1050 960.6,1064.8 L973.7,1064.8" stroke-width="1.2" fill="none" />
<rect x="1066.7" y="969.9" width="39.3" height="37.8" rx="0" stroke-width="2" fill="#fff"/>
<line x1="1066.7" y1="970.5" x2="1106.0" y2="970.5" stroke-width="3"/>
<circle cx="1085.8" cy="1023.3" r="26.3" stroke-width="2" fill="#fff"/>
<circle cx="1085.8" cy="1023.3" r="22.4" stroke-width="1.4" fill="none"/>
<circle cx="1085.8" cy="1023.3" r="18.1" stroke-width="3.6" fill="none"/>
<circle cx="1085.8" cy="1023.3" r="10.2" stroke-width="1.9" fill="none"/>
<circle cx="1085.8" cy="1023.3" r="5.6" stroke-width="3" fill="none"/>
<line x1="1077.4" y1="969.9" x2="1077.4" y2="925.0" stroke-width="1.4"/>
<path d="M1077.4,915.4 L1080.4,925.4 L1074.4,925.4 Z" fill="#000" stroke="none"/>
<path d="M1095,969 L1119,934.5 L1128.3,934.5" stroke-width="1.2" fill="none" />
<path d="M1095.3,968.6 L1098.5,958.7 L1103.5,962.1 Z" fill="#000" stroke="none"/>
<rect x="1243.0" y="1003.0" width="35.8" height="40.7" rx="0" stroke-width="2" fill="#fff"/>
<line x1="1278.8" y1="1003.0" x2="1278.8" y2="1043.7" stroke-width="3"/>
<rect x="1204.8" y="1050.0" width="41.7" height="26.8" rx="0" stroke-width="2" fill="#fff"/>
<line x1="1204.8" y1="1076.8" x2="1246.5" y2="1076.8" stroke-width="3"/>
<path d="M1216.2,1000 L1216.2,986.5 A9.7,9.7 0 0 1 1235.6,986.5 L1235.6,1000" stroke-width="2.4" fill="#fff" />
<circle cx="1225.9" cy="985.8" r="3.6" stroke-width="1.6" fill="none"/>
<circle cx="1226.2" cy="1024.5" r="33.0" stroke-width="1.4" fill="#fff"/>
<circle cx="1226.2" cy="1024.5" r="29.3" stroke-width="3.6" fill="none"/>
<line x1="1206.0" y1="1057.0" x2="1245.5" y2="1057.0" stroke-width="1.4"/>
<circle cx="1209.6" cy="1010.2" r="4.0" stroke-width="1.6" fill="none"/>
<circle cx="1225.9" cy="1015.4" r="4.0" stroke-width="1.6" fill="none"/>
<circle cx="1242.0" cy="1010.2" r="4.0" stroke-width="1.6" fill="none"/>
<circle cx="1216.8" cy="1032.7" r="4.0" stroke-width="1.6" fill="none"/>
<circle cx="1235.4" cy="1032.7" r="4.0" stroke-width="1.6" fill="none"/>
<line x1="1312.0" y1="1024.7" x2="1288.0" y2="1024.7" stroke-width="1.4"/>
<path d="M1281.0,1024.7 L1291.0,1021.7 L1291.0,1027.7 Z" fill="#000" stroke="none"/>
<line x1="1288.0" y1="1033.0" x2="1316.4" y2="1037.5" stroke-width="1.3"/>
<path d="M1281.0,1032.3 L1291.3,1030.8 L1290.5,1036.7 Z" fill="#000" stroke="none"/>
<line x1="1217.2" y1="1113.0" x2="1217.2" y2="1090.0" stroke-width="1.4"/>
<path d="M1217.2,1082.0 L1220.2,1092.0 L1214.2,1092.0 Z" fill="#000" stroke="none"/>
<path d="M1236,1082 L1251.5,1102.3 L1261.6,1102.3" stroke-width="1.2" fill="none" />
<path d="M1233.3,1078.8 L1241.4,1085.3 L1236.5,1088.7 Z" fill="#000" stroke="none"/>
<g style="font-family:&quot;Liberation Serif&quot;,serif;font-size:24px;font-weight:bold" fill="#000" stroke="none"><text x="0" y="0" transform="translate(1067.37,912.30) scale(0.800,1.0)" stroke="#000" stroke-width="1.11">s</text><text x="0" y="0" transform="translate(1076.39,912.30) scale(0.676,1.0)" stroke="#000" stroke-width="1.19">h</text><text x="0" y="0" transform="translate(1086.19,912.30) scale(0.751,1.0)" stroke="#000" stroke-width="1.14">o</text><text x="0" y="0" transform="translate(1095.99,912.30) scale(0.520,1.0)" stroke="#000" stroke-width="1.32">w</text><text x="0" y="0" transform="translate(1106.04,912.30) scale(0.800,1.0)" stroke="#000" stroke-width="1.11">e</text><text x="0" y="0" transform="translate(1115.84,912.30) scale(0.800,1.0)" stroke="#000" stroke-width="1.11">r</text><text x="0" y="0" transform="translate(1125.39,912.30) scale(0.676,1.0)" stroke="#000" stroke-width="1.19">h</text><text x="0" y="0" transform="translate(1135.44,912.30) scale(0.800,1.0)" stroke="#000" stroke-width="1.11">e</text><text x="0" y="0" transform="translate(1144.99,912.30) scale(0.751,1.0)" stroke="#000" stroke-width="1.14">a</text><text x="0" y="0" transform="translate(1154.79,912.30) scale(0.676,1.0)" stroke="#000" stroke-width="1.19">d</text></g>
<g style="font-family:&quot;Liberation Serif&quot;,serif;font-size:24px;font-weight:normal" fill="#000" stroke="none"><text x="0" y="0" transform="translate(1128.40,940.20) scale(0.526,1.02)" stroke="#000" stroke-width="1.49">w</text><text x="0" y="0" transform="translate(1138.59,940.20) scale(0.800,1.02)" stroke="#000" stroke-width="1.26">a</text><text x="0" y="0" transform="translate(1150.08,940.20) scale(0.800,1.02)" stroke="#000" stroke-width="1.26">t</text><text x="0" y="0" transform="translate(1158.39,940.20) scale(0.800,1.02)" stroke="#000" stroke-width="1.26">e</text><text x="0" y="0" transform="translate(1169.35,940.20) scale(0.800,1.02)" stroke="#000" stroke-width="1.26">r</text><text x="0" y="0" transform="translate(1187.80,940.20) scale(0.759,1.02)" stroke="#000" stroke-width="1.29">o</text><text x="0" y="0" transform="translate(1197.70,940.20) scale(0.759,1.02)" stroke="#000" stroke-width="1.29">u</text><text x="0" y="0" transform="translate(1209.48,940.20) scale(0.800,1.02)" stroke="#000" stroke-width="1.26">t</text><text x="0" y="0" transform="translate(1219.38,940.20) scale(0.800,1.02)" stroke="#000" stroke-width="1.26">l</text><text x="0" y="0" transform="translate(1227.69,940.20) scale(0.800,1.02)" stroke="#000" stroke-width="1.26">e</text><text x="0" y="0" transform="translate(1239.18,940.20) scale(0.800,1.02)" stroke="#000" stroke-width="1.26">t</text><text x="0" y="0" transform="translate(1248.02,940.20) scale(0.800,1.02)" stroke="#000" stroke-width="1.26">s</text></g>
<g style="font-family:&quot;Liberation Serif&quot;,serif;font-size:24px;font-weight:normal" fill="#000" stroke="none"><text x="0" y="0" transform="translate(1128.40,969.20) scale(0.488,1.02)" stroke="#000" stroke-width="1.53">m</text><text x="0" y="0" transform="translate(1138.59,969.20) scale(0.800,1.02)" stroke="#000" stroke-width="1.26">a</text><text x="0" y="0" transform="translate(1150.08,969.20) scale(0.800,1.02)" stroke="#000" stroke-width="1.26">l</text><text x="0" y="0" transform="translate(1158.39,969.20) scale(0.800,1.02)" stroke="#000" stroke-width="1.26">e</text><text x="0" y="0" transform="translate(1177.90,969.20) scale(0.526,1.02)" stroke="#000" stroke-width="1.49">G</text><text x="0" y="0" transform="translate(1187.80,969.20) scale(0.759,1.02)" stroke="#000" stroke-width="1.29">1</text><text x="0" y="0" transform="translate(1199.58,969.20) scale(0.800,1.02)" stroke="#000" stroke-width="1.26">/</text><text x="0" y="0" transform="translate(1207.60,969.20) scale(0.759,1.02)" stroke="#000" stroke-width="1.29">2</text></g>
<g style="font-family:&quot;Liberation Serif&quot;,serif;font-size:24px;font-weight:normal" fill="#000" stroke="none"><text x="0" y="0" transform="translate(973.60,1072.70) scale(0.526,1.02)" stroke="#000" stroke-width="1.49">w</text><text x="0" y="0" transform="translate(983.79,1072.70) scale(0.800,1.02)" stroke="#000" stroke-width="1.26">a</text><text x="0" y="0" transform="translate(995.28,1072.70) scale(0.800,1.02)" stroke="#000" stroke-width="1.26">t</text><text x="0" y="0" transform="translate(1003.59,1072.70) scale(0.800,1.02)" stroke="#000" stroke-width="1.26">e</text><text x="0" y="0" transform="translate(1014.55,1072.70) scale(0.800,1.02)" stroke="#000" stroke-width="1.26">r</text><text x="0" y="0" transform="translate(1033.00,1072.70) scale(0.759,1.02)" stroke="#000" stroke-width="1.29">o</text><text x="0" y="0" transform="translate(1042.90,1072.70) scale(0.759,1.02)" stroke="#000" stroke-width="1.29">u</text><text x="0" y="0" transform="translate(1054.68,1072.70) scale(0.800,1.02)" stroke="#000" stroke-width="1.26">t</text><text x="0" y="0" transform="translate(1064.58,1072.70) scale(0.800,1.02)" stroke="#000" stroke-width="1.26">l</text><text x="0" y="0" transform="translate(1072.89,1072.70) scale(0.800,1.02)" stroke="#000" stroke-width="1.26">e</text><text x="0" y="0" transform="translate(1084.38,1072.70) scale(0.800,1.02)" stroke="#000" stroke-width="1.26">t</text><text x="0" y="0" transform="translate(1093.22,1072.70) scale(0.800,1.02)" stroke="#000" stroke-width="1.26">s</text></g>
<g style="font-family:&quot;Liberation Serif&quot;,serif;font-size:24px;font-weight:normal" fill="#000" stroke="none"><text x="0" y="0" transform="translate(973.60,1101.70) scale(0.488,1.02)" stroke="#000" stroke-width="1.53">m</text><text x="0" y="0" transform="translate(983.79,1101.70) scale(0.800,1.02)" stroke="#000" stroke-width="1.26">a</text><text x="0" y="0" transform="translate(995.28,1101.70) scale(0.800,1.02)" stroke="#000" stroke-width="1.26">l</text><text x="0" y="0" transform="translate(1003.59,1101.70) scale(0.800,1.02)" stroke="#000" stroke-width="1.26">e</text><text x="0" y="0" transform="translate(1023.10,1101.70) scale(0.526,1.02)" stroke="#000" stroke-width="1.49">G</text><text x="0" y="0" transform="translate(1033.00,1101.70) scale(0.759,1.02)" stroke="#000" stroke-width="1.29">1</text><text x="0" y="0" transform="translate(1044.78,1101.70) scale(0.800,1.02)" stroke="#000" stroke-width="1.26">/</text><text x="0" y="0" transform="translate(1052.80,1101.70) scale(0.759,1.02)" stroke="#000" stroke-width="1.29">2</text></g>
<g style="font-family:&quot;Liberation Serif&quot;,serif;font-size:24px;font-weight:normal" fill="#000" stroke="none"><text x="0" y="0" transform="translate(1316.70,1044.40) scale(0.569,1.02)" stroke="#000" stroke-width="1.45">C</text><text x="0" y="0" transform="translate(1326.60,1044.40) scale(0.759,1.02)" stroke="#000" stroke-width="1.29">o</text><text x="0" y="0" transform="translate(1338.38,1044.40) scale(0.800,1.02)" stroke="#000" stroke-width="1.26">l</text><text x="0" y="0" transform="translate(1346.40,1044.40) scale(0.759,1.02)" stroke="#000" stroke-width="1.29">d</text><text x="0" y="0" transform="translate(1366.20,1044.40) scale(0.526,1.02)" stroke="#000" stroke-width="1.49">w</text><text x="0" y="0" transform="translate(1376.39,1044.40) scale(0.800,1.02)" stroke="#000" stroke-width="1.26">a</text><text x="0" y="0" transform="translate(1387.88,1044.40) scale(0.800,1.02)" stroke="#000" stroke-width="1.26">t</text><text x="0" y="0" transform="translate(1396.19,1044.40) scale(0.800,1.02)" stroke="#000" stroke-width="1.26">e</text><text x="0" y="0" transform="translate(1407.15,1044.40) scale(0.800,1.02)" stroke="#000" stroke-width="1.26">r</text><text x="0" y="0" transform="translate(1427.48,1044.40) scale(0.800,1.02)" stroke="#000" stroke-width="1.26">i</text><text x="0" y="0" transform="translate(1435.50,1044.40) scale(0.759,1.02)" stroke="#000" stroke-width="1.29">n</text><text x="0" y="0" transform="translate(1447.28,1044.40) scale(0.800,1.02)" stroke="#000" stroke-width="1.26">l</text><text x="0" y="0" transform="translate(1455.59,1044.40) scale(0.800,1.02)" stroke="#000" stroke-width="1.26">e</text><text x="0" y="0" transform="translate(1467.08,1044.40) scale(0.800,1.02)" stroke="#000" stroke-width="1.26">t</text></g>
<g style="font-family:&quot;Liberation Serif&quot;,serif;font-size:24px;font-weight:normal" fill="#000" stroke="none"><text x="0" y="0" transform="translate(1316.70,1073.40) scale(0.488,1.02)" stroke="#000" stroke-width="1.53">m</text><text x="0" y="0" transform="translate(1326.89,1073.40) scale(0.800,1.02)" stroke="#000" stroke-width="1.26">a</text><text x="0" y="0" transform="translate(1338.38,1073.40) scale(0.800,1.02)" stroke="#000" stroke-width="1.26">l</text><text x="0" y="0" transform="translate(1346.69,1073.40) scale(0.800,1.02)" stroke="#000" stroke-width="1.26">e</text><text x="0" y="0" transform="translate(1366.20,1073.40) scale(0.526,1.02)" stroke="#000" stroke-width="1.49">G</text><text x="0" y="0" transform="translate(1376.10,1073.40) scale(0.759,1.02)" stroke="#000" stroke-width="1.29">1</text><text x="0" y="0" transform="translate(1387.88,1073.40) scale(0.800,1.02)" stroke="#000" stroke-width="1.26">/</text><text x="0" y="0" transform="translate(1395.90,1073.40) scale(0.759,1.02)" stroke="#000" stroke-width="1.29">2</text></g>
<g style="font-family:&quot;Liberation Serif&quot;,serif;font-size:24px;font-weight:normal" fill="#000" stroke="none"><text x="0" y="0" transform="translate(1261.50,1108.50) scale(0.526,1.02)" stroke="#000" stroke-width="1.49">H</text><text x="0" y="0" transform="translate(1271.40,1108.50) scale(0.759,1.02)" stroke="#000" stroke-width="1.29">o</text><text x="0" y="0" transform="translate(1283.18,1108.50) scale(0.800,1.02)" stroke="#000" stroke-width="1.26">t</text><text x="0" y="0" transform="translate(1301.10,1108.50) scale(0.526,1.02)" stroke="#000" stroke-width="1.49">w</text><text x="0" y="0" transform="translate(1311.29,1108.50) scale(0.800,1.02)" stroke="#000" stroke-width="1.26">a</text><text x="0" y="0" transform="translate(1322.78,1108.50) scale(0.800,1.02)" stroke="#000" stroke-width="1.26">t</text><text x="0" y="0" transform="translate(1331.09,1108.50) scale(0.800,1.02)" stroke="#000" stroke-width="1.26">e</text><text x="0" y="0" transform="translate(1342.05,1108.50) scale(0.800,1.02)" stroke="#000" stroke-width="1.26">r</text><text x="0" y="0" transform="translate(1362.38,1108.50) scale(0.800,1.02)" stroke="#000" stroke-width="1.26">i</text><text x="0" y="0" transform="translate(1370.40,1108.50) scale(0.759,1.02)" stroke="#000" stroke-width="1.29">n</text><text x="0" y="0" transform="translate(1382.18,1108.50) scale(0.800,1.02)" stroke="#000" stroke-width="1.26">l</text><text x="0" y="0" transform="translate(1390.49,1108.50) scale(0.800,1.02)" stroke="#000" stroke-width="1.26">e</text><text x="0" y="0" transform="translate(1401.98,1108.50) scale(0.800,1.02)" stroke="#000" stroke-width="1.26">t</text></g>
<g style="font-family:&quot;Liberation Serif&quot;,serif;font-size:24px;font-weight:normal" fill="#000" stroke="none"><text x="0" y="0" transform="translate(1261.50,1137.40) scale(0.488,1.02)" stroke="#000" stroke-width="1.53">m</text><text x="0" y="0" transform="translate(1271.69,1137.40) scale(0.800,1.02)" stroke="#000" stroke-width="1.26">a</text><text x="0" y="0" transform="translate(1283.18,1137.40) scale(0.800,1.02)" stroke="#000" stroke-width="1.26">l</text><text x="0" y="0" transform="translate(1291.49,1137.40) scale(0.800,1.02)" stroke="#000" stroke-width="1.26">e</text><text x="0" y="0" transform="translate(1311.00,1137.40) scale(0.526,1.02)" stroke="#000" stroke-width="1.49">G</text><text x="0" y="0" transform="translate(1320.90,1137.40) scale(0.759,1.02)" stroke="#000" stroke-width="1.29">1</text><text x="0" y="0" transform="translate(1332.68,1137.40) scale(0.800,1.02)" stroke="#000" stroke-width="1.26">/</text><text x="0" y="0" transform="translate(1340.70,1137.40) scale(0.759,1.02)" stroke="#000" stroke-width="1.29">2</text></g>
<g style="font-family:&quot;Liberation Serif&quot;,serif;font-size:25px;font-weight:bold" fill="#000" stroke="none"><text x="0" y="0" transform="translate(1286.39,1018.90) scale(0.500,1.0)" stroke="#000" stroke-width="1.33">C</text><text x="0" y="0" transform="translate(1296.19,1018.90) scale(0.464,1.0)" stroke="#000" stroke-width="1.37">O</text><text x="0" y="0" transform="translate(1305.99,1018.90) scale(0.541,1.0)" stroke="#000" stroke-width="1.30">L</text><text x="0" y="0" transform="translate(1315.79,1018.90) scale(0.500,1.0)" stroke="#000" stroke-width="1.33">D</text></g>
<g transform="rotate(90 951.5 930.7)"><g style="font-family:&quot;Liberation Serif&quot;,serif;font-size:24px;font-weight:bold" fill="#000" stroke="none"><text x="0" y="0" transform="translate(951.90,930.70) scale(0.493,1.0)" stroke="#000" stroke-width="1.34">H</text><text x="0" y="0" transform="translate(961.90,930.70) scale(0.767,1.0)" stroke="#000" stroke-width="1.13">a</text><text x="0" y="0" transform="translate(971.90,930.70) scale(0.689,1.0)" stroke="#000" stroke-width="1.18">n</text><text x="0" y="0" transform="translate(981.90,930.70) scale(0.689,1.0)" stroke="#000" stroke-width="1.18">d</text><text x="0" y="0" transform="translate(993.83,930.70) scale(0.800,1.0)" stroke="#000" stroke-width="1.11">l</text><text x="0" y="0" transform="translate(1002.24,930.70) scale(0.800,1.0)" stroke="#000" stroke-width="1.11">e</text></g></g>
<g transform="rotate(90 924.4 931.4)"><g style="font-family:&quot;Liberation Serif&quot;,serif;font-size:24px;font-weight:bold" fill="#000" stroke="none"><text x="0" y="0" transform="translate(925.57,931.40) scale(0.800,1.0)" stroke="#000" stroke-width="1.11">s</text><text x="0" y="0" transform="translate(934.59,931.40) scale(0.676,1.0)" stroke="#000" stroke-width="1.19">h</text><text x="0" y="0" transform="translate(944.39,931.40) scale(0.751,1.0)" stroke="#000" stroke-width="1.14">o</text><text x="0" y="0" transform="translate(954.19,931.40) scale(0.520,1.0)" stroke="#000" stroke-width="1.32">w</text><text x="0" y="0" transform="translate(964.24,931.40) scale(0.800,1.0)" stroke="#000" stroke-width="1.11">e</text><text x="0" y="0" transform="translate(974.04,931.40) scale(0.800,1.0)" stroke="#000" stroke-width="1.11">r</text></g></g>
<g transform="rotate(-90 1231.7 1113.0)"><g style="font-family:&quot;Liberation Serif&quot;,serif;font-size:18px;font-weight:bold" fill="#000" stroke="none"><text x="0" y="0" transform="translate(1231.95,1113.00) scale(0.450,1.0)" stroke="#000" stroke-width="1.38">H</text><text x="0" y="0" transform="translate(1238.75,1113.00) scale(0.450,1.0)" stroke="#000" stroke-width="1.38">O</text><text x="0" y="0" transform="translate(1245.57,1113.00) scale(0.521,1.0)" stroke="#000" stroke-width="1.31">T</text></g></g>
</g>
</svg>
</body></html>
